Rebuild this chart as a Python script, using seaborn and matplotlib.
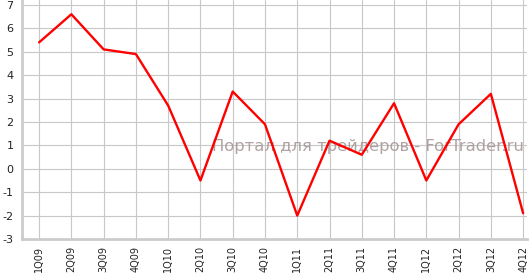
import matplotlib
matplotlib.use("Agg")
import matplotlib.pyplot as plt
import seaborn as sns
import pandas as pd

quarters = ["1Q09", "2Q09", "3Q09", "4Q09", "1Q10", "2Q10", "3Q10", "4Q10",
            "1Q11", "2Q11", "3Q11", "4Q11", "1Q12", "2Q12", "3Q12", "4Q12"]
values = [5.4, 6.6, 5.1, 4.9, 2.7, -0.5, 3.3, 1.9,
          -2.0, 1.2, 0.6, 2.8, -0.5, 1.9, 3.2, -1.9]
yticks = [-3, -2, -1, 0, 1, 2, 3, 4, 5, 6, 7]
watermark = "Портал для трейдеров - ForTrader.ru"

sns.set_theme(style="white")
plt.rcParams['font.family'] = ['DejaVu Sans']

df = pd.DataFrame({"x": range(len(quarters)), "v": values})

fig = plt.figure(figsize=(5.29, 2.73), dpi=100)
ax = fig.add_axes([22/529, 1 - 239/273, (527-22)/529, 239/273])

ax.set_xlim(-0.53, 15.12)
ax.set_ylim(-3, 7.21)
ax.set_xticks(range(len(quarters)))
ax.set_xticklabels(quarters, rotation=90, fontsize=7, color="#222222")
ax.set_yticks(yticks)
ax.set_yticklabels([str(t) for t in yticks], fontsize=8, color="#222222")
ax.grid(True, color="#c8c8c8", linewidth=0.8)
ax.set_axisbelow(True)

ax.text(368/529, 1 - 146/273, watermark, transform=fig.transFigure,
        ha="center", va="center", fontsize=11.8, color="#a89898", alpha=0.9, zorder=2)

sns.lineplot(data=df, x="x", y="v", ax=ax, color="#ff0000", linewidth=1.7, zorder=3)
ax.set_xlabel("")
ax.set_ylabel("")

for s in ["top", "right"]:
    ax.spines[s].set_visible(False)
for s in ["left", "bottom"]:
    ax.spines[s].set_color("#cccccc")
    ax.spines[s].set_linewidth(2)

ax.tick_params(axis="both", which="both", width=1, color="#bbbbbb")
ax.tick_params(axis="x", direction="out", length=3, pad=2)
ax.tick_params(axis="y", direction="out", length=4, pad=2)

fig.savefig("out.png", dpi=100)
